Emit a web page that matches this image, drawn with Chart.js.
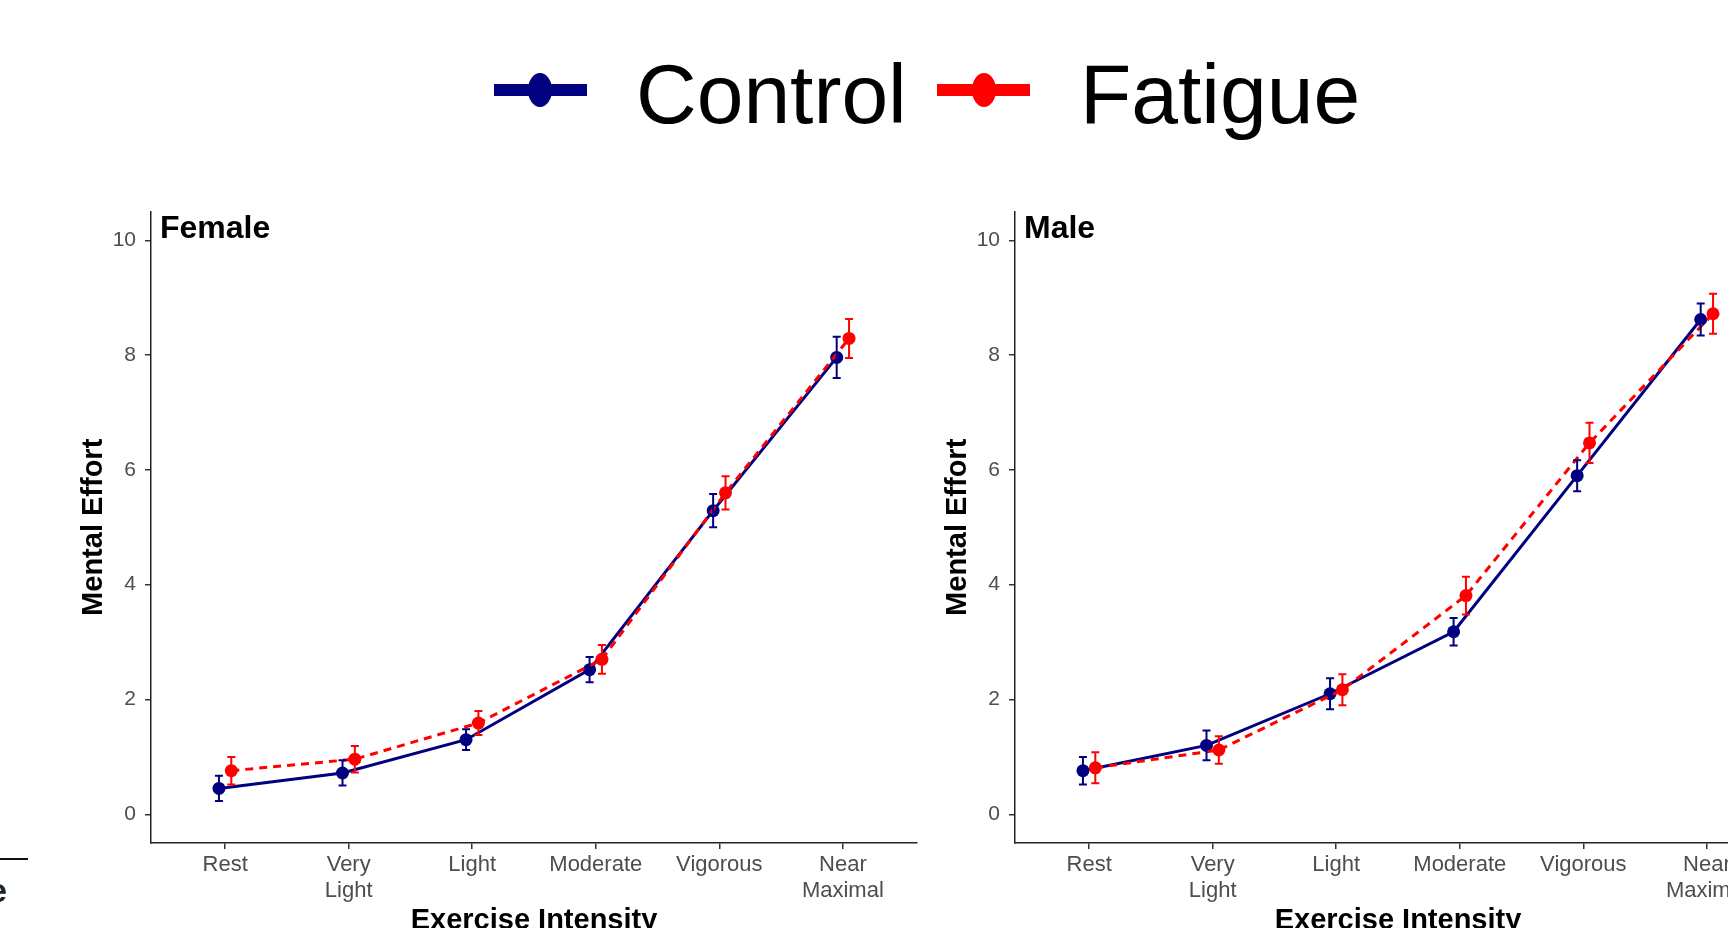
<!DOCTYPE html>
<html>
<head>
<meta charset="utf-8">
<script src="https://cdn.jsdelivr.net/npm/chart.js@4.4.1/dist/chart.umd.min.js"></script>
<style>
  html, body { margin: 0; padding: 0; background: #fff; }
  body { width: 1728px; height: 928px; overflow: hidden; position: relative; font-family: 'Liberation Sans', Arial, sans-serif; }
  .panel { position: absolute; top: 190px; width: 870px; height: 780px; }
  .key-line { position: absolute; top: 84px; width: 93px; height: 12px; }
  .key-dot { position: absolute; top: 73px; width: 24px; height: 34px; border-radius: 50%; }
  .key-text { position: absolute; top: 52px; font-size: 84px; line-height: 1; color: #000; }
</style>
</head>
<body>

<div class="key-line" style="left:494px;background:#000080"></div>
<div class="key-dot" style="left:528px;background:#000080"></div>
<div class="key-text" style="left:636px">Control</div>
<div class="key-line" style="left:937px;background:#ff0000"></div>
<div class="key-dot" style="left:972px;background:#ff0000"></div>
<div class="key-text" style="left:1080px">Fatigue</div>

<!-- bout de la figure voisine, coupé au bord gauche -->
<div style="position:absolute;left:0;top:858px;width:28px;height:2px;background:#111"></div>
<div style="position:absolute;left:-12px;top:873px;font-size:34px;line-height:1;font-weight:bold;color:#222">e</div>

<div class="panel" style="left:60px"><canvas id="female"></canvas></div>
<div class="panel" style="left:924px"><canvas id="male"></canvas></div>

<script>
// Categorías y valores
const categorias = ['Rest', ['Very', 'Light'], 'Light', 'Moderate', 'Vigorous', ['Near', 'Maximal']];
const yTicks = [0, 2, 4, 6, 8, 10];

const femaleControl   = [0.45, 0.72, 1.30, 2.52, 5.29, 7.96];
const femaleControlSE = [0.22, 0.22, 0.18, 0.22, 0.29, 0.36];
const femaleFatigue   = [0.76, 0.96, 1.59, 2.70, 5.60, 8.29];
const femaleFatigueSE = [0.24, 0.23, 0.21, 0.25, 0.29, 0.34];

const maleControl   = [0.76, 1.20, 2.10, 3.18, 5.90, 8.62];
const maleControlSE = [0.24, 0.26, 0.27, 0.24, 0.27, 0.28];
const maleFatigue   = [0.81, 1.12, 2.17, 3.81, 6.47, 8.72];
const maleFatigueSE = [0.27, 0.24, 0.27, 0.33, 0.35, 0.35];

const dodge = 0.05; // desplazamiento lateral de cada grupo
const fuente = "'Liberation Sans', Arial, sans-serif";

// Barras de error con sus topes
const errorBars = {
    id: 'errorBars',
    afterDatasetsDraw(chart) {
        const { ctx, scales: { x, y } } = chart;
        chart.data.datasets.forEach(ds => {
            ctx.save();
            ctx.strokeStyle = ds.borderColor;
            ctx.lineWidth = 2;
            ds.data.forEach((p, i) => {
                const px = x.getPixelForValue(p.x);
                const arriba = y.getPixelForValue(p.y + ds.errors[i]);
                const abajo = y.getPixelForValue(p.y - ds.errors[i]);
                ctx.beginPath();
                ctx.moveTo(px, arriba); ctx.lineTo(px, abajo);
                ctx.moveTo(px - 4, arriba); ctx.lineTo(px + 4, arriba);
                ctx.moveTo(px - 4, abajo); ctx.lineTo(px + 4, abajo);
                ctx.stroke();
            });
            ctx.restore();
        });
    }
};

// Etiqueta del panel (Female / Male)
const panelLabel = {
    id: 'panelLabel',
    afterDraw(chart, args, opts) {
        const { ctx, chartArea } = chart;
        ctx.save();
        ctx.font = 'bold 32px ' + fuente;
        ctx.fillStyle = '#000';
        ctx.textAlign = 'left';
        ctx.textBaseline = 'alphabetic';
        ctx.fillText(opts.text, chartArea.left + 9, chartArea.top + 26);
        ctx.restore();
    }
};

function crearPanel(id, titulo, control, controlSE, fatigue, fatigueSE) {
    const ejeComun = {
        grid: { display: true, drawOnChartArea: false, drawTicks: true, tickLength: 6, color: '#333', lineWidth: 1.5 },
        border: { display: true, color: '#222', width: 1.5 }
    };

    new Chart(document.getElementById(id), {
        type: 'line',
        data: {
            datasets: [{
                label: 'Control',
                data: control.map((v, i) => ({ x: i - dodge, y: v })),
                errors: controlSE,
                borderColor: '#000080',
                backgroundColor: '#000080',
                borderWidth: 3,
                pointRadius: 6.5,
                pointHoverRadius: 6.5,
                pointBorderWidth: 0,
                order: 2
            }, {
                label: 'Fatigue',
                data: fatigue.map((v, i) => ({ x: i + dodge, y: v })),
                errors: fatigueSE,
                borderColor: '#ff0000',
                backgroundColor: '#ff0000',
                borderWidth: 3,
                borderDash: [8, 6],
                pointRadius: 6.5,
                pointHoverRadius: 6.5,
                pointBorderWidth: 0,
                order: 1
            }]
        },
        options: {
            responsive: true,
            maintainAspectRatio: false,
            animation: false,
            layout: { padding: { top: 14, right: 13, left: 0, bottom: 0 } },
            plugins: {
                legend: { display: false },
                tooltip: { enabled: false },
                panelLabel: { text: titulo }
            },
            scales: {
                x: {
                    ...ejeComun,
                    type: 'linear',
                    min: -0.6,
                    max: 5.6,
                    afterBuildTicks: s => { s.ticks = categorias.map((c, i) => ({ value: i })); },
                    afterFit: s => { s.height = 127; },
                    ticks: {
                        callback: v => categorias[v],
                        autoSkip: false,
                        maxRotation: 0,
                        color: '#4d4d4d',
                        padding: 3,
                        font: { family: fuente, size: 22, lineHeight: 1.18 }
                    },
                    title: {
                        display: true,
                        text: 'Exercise Intensity',
                        color: '#000',
                        font: { family: fuente, size: 29, weight: 'bold', lineHeight: 1.2 },
                        padding: { top: 0, bottom: 32 }
                    }
                },
                y: {
                    ...ejeComun,
                    min: -0.5,
                    max: 10.5,
                    afterBuildTicks: s => { s.ticks = yTicks.map(v => ({ value: v })); },
                    afterFit: s => { s.width = 91; },
                    ticks: {
                        color: '#4d4d4d',
                        padding: 9,
                        font: { family: fuente, size: 21 }
                    },
                    title: {
                        display: true,
                        text: 'Mental Effort',
                        color: '#000',
                        font: { family: fuente, size: 29, weight: 'bold', lineHeight: 1.2 },
                        padding: { top: 17, bottom: 0 }
                    }
                }
            }
        },
        plugins: [errorBars, panelLabel]
    });
}

crearPanel('female', 'Female', femaleControl, femaleControlSE, femaleFatigue, femaleFatigueSE);
crearPanel('male', 'Male', maleControl, maleControlSE, maleFatigue, maleFatigueSE);
</script>
</body>
</html>
